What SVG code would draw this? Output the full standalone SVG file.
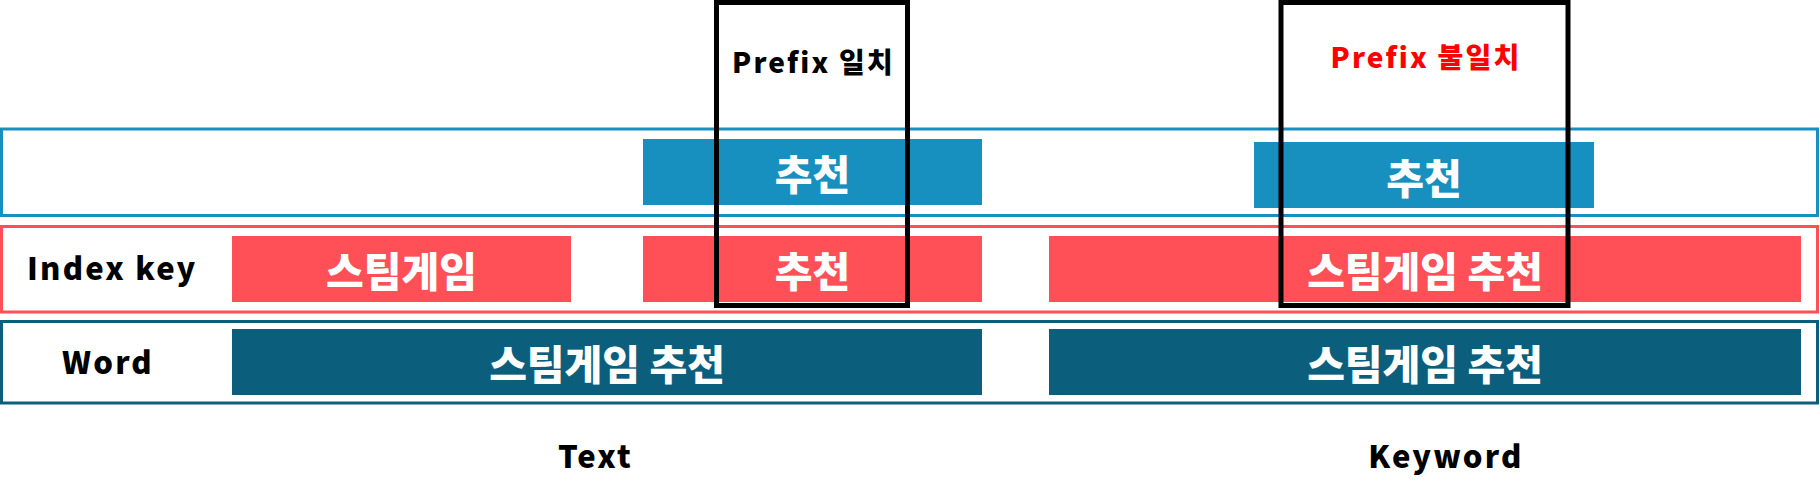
<svg xmlns="http://www.w3.org/2000/svg" width="1820" height="496" viewBox="0 0 1820 496">
<style>
.t{font-family:"Noto Sans CJK KR","Noto Sans",sans-serif;font-weight:900;}
.lbl{font-size:31px;fill:#000;letter-spacing:2.2px;}
.bar{font-size:41px;fill:#fff;text-anchor:middle;}
.frame{fill:none;stroke-width:3;}
.hl{fill:none;stroke:#000;stroke-width:5;}
</style>
<rect width="1820" height="496" fill="#fff"/>
<g id="row-blue">
<rect class="frame" x="1.5" y="129" width="1816" height="86.5" stroke="#1890BF"/>
</g>
<g id="row-index">
<rect class="frame" x="1.5" y="226.5" width="1816" height="85.5" stroke="#FF4F57"/>
<text class="t lbl" x="27" y="280">Index key</text>
</g>
<g id="row-word">
<rect class="frame" x="1.5" y="321.5" width="1816" height="81.5" stroke="#0C5E7D"/>
<text class="t lbl" x="62" y="374">Word</text>
</g>
<g id="blue-1"><rect x="643" y="139" width="339" height="66" fill="#1890BF"/><text class="t bar" x="812.5" y="190">추천</text></g>
<g id="blue-2"><rect x="1254" y="142" width="340" height="66" fill="#1890BF"/><text class="t bar" x="1424" y="194">추천</text></g>
<g id="red-1"><rect x="232" y="236" width="339" height="66" fill="#FF4F57"/><text class="t bar" x="401.5" y="287">스팀게임</text></g>
<g id="red-2"><rect x="643" y="236" width="339" height="66" fill="#FF4F57"/><text class="t bar" x="812.5" y="287">추천</text></g>
<g id="red-3"><rect x="1049" y="236" width="752" height="66" fill="#FF4F57"/><text class="t bar" x="1425" y="287">스팀게임 추천</text></g>
<g id="word-1"><rect x="232" y="329" width="750" height="66" fill="#0C5E7D"/><text class="t bar" x="607" y="380">스팀게임 추천</text></g>
<g id="word-2"><rect x="1049" y="329" width="752" height="66" fill="#0C5E7D"/><text class="t bar" x="1425" y="380">스팀게임 추천</text></g>
<g id="prefix-match">
<rect class="hl" x="716.5" y="2.5" width="191" height="303"/>
<text class="t lbl" x="813.5" y="73" text-anchor="middle" style="font-size:28px">Prefix 일치</text>
</g>
<g id="prefix-mismatch">
<rect class="hl" x="1281" y="2.5" width="287" height="303"/>
<text class="t lbl" x="1426" y="68" text-anchor="middle" style="font-size:28px;fill:#FF0000">Prefix 불일치</text>
</g>
<g id="captions">
<text class="t lbl" x="595.5" y="468" text-anchor="middle">Text</text>
<text class="t lbl" x="1446" y="468" text-anchor="middle">Keyword</text>
</g>
</svg>
